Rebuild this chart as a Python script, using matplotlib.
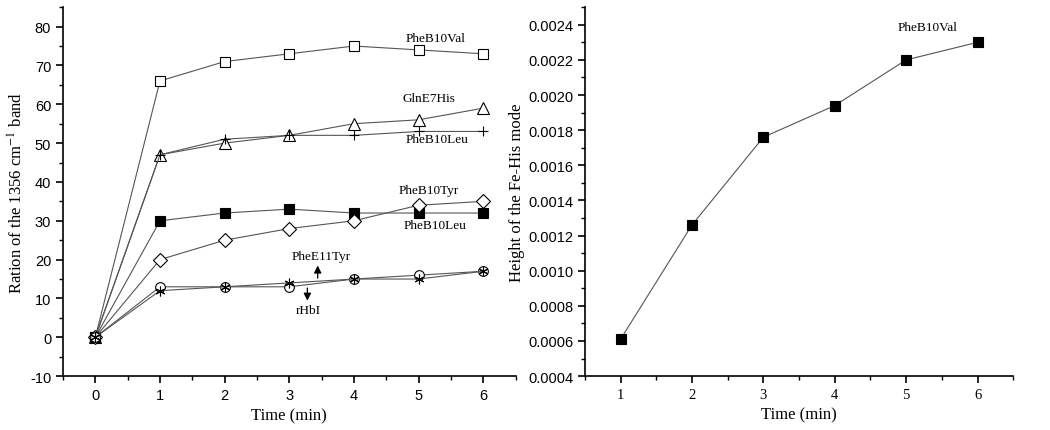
import matplotlib.pyplot as plt
from matplotlib.ticker import MultipleLocator

plt.rcParams['mathtext.fontset'] = 'stix'
plt.rcParams['axes.unicode_minus'] = False

# Left panel data
time = [0, 1, 2, 3, 4, 5, 6]
phe_b10_val = [0, 66, 71, 73, 75, 74, 73]
gln_e7_his = [0, 47, 50, 52, 55, 56, 59]
phe_b10_leu_plus = [0, 47, 51, 52, 52, 53, 53]
phe_b10_tyr = [0, 30, 32, 33, 32, 32, 32]
phe_b10_leu_diamond = [0, 20, 25, 28, 30, 34, 35]
rhbi = [0, 13, 13, 13, 15, 16, 17]
phe_e11_tyr = [0, 12, 13, 14, 15, 15, 17]

# Right panel data
time_r = [1, 2, 3, 4, 5, 6]
fe_his_height = [0.00061, 0.00126, 0.00176, 0.00194, 0.0022, 0.0023]

serif = 'Liberation Serif'
sans = 'Liberation Sans'
line_col = '#555555'

fig = plt.figure(figsize=(10.5, 4.31), dpi=100)
ax1 = fig.add_axes([0.06, 0.125, 0.431, 0.856])
ax2 = fig.add_axes([0.557, 0.125, 0.408, 0.856])

common = dict(color=line_col, lw=0.8, markersize=7, markeredgecolor='black',
              markeredgewidth=0.8)
ax1.plot(time, phe_b10_val, marker='s', markerfacecolor='white', **common)
ax1.plot(time, gln_e7_his, marker='^', markerfacecolor='white', markersize=9,
         **{k: v for k, v in common.items() if k != 'markersize'})
ax1.plot(time, phe_b10_leu_plus, marker='+', **common)
ax1.plot(time, phe_b10_tyr, marker='s', markerfacecolor='black', **common)
ax1.plot(time, phe_b10_leu_diamond, marker='D', markerfacecolor='white', **common)
ax1.plot(time, rhbi, marker='o', markerfacecolor='white', **common)
ax1.plot(time, phe_e11_tyr, marker=(6, 2, 0), **common)

tkw = dict(fontsize=9.5, family=serif, ha='center', va='center')
ax1.text(5.26, 77, 'PheB10Val', **tkw)
ax1.text(5.16, 61.5, 'GlnE7His', **tkw)
ax1.text(5.28, 51, 'PheB10Leu', **tkw)
ax1.text(5.16, 38, 'PheB10Tyr', **tkw)
ax1.text(5.26, 29, 'PheB10Leu', **tkw)
ax1.text(3.49, 21, 'PheE11Tyr', **tkw)
ax1.text(3.3, 7, 'rHbI', **tkw)
ax1.annotate('', xy=(3.44, 19.2), xytext=(3.44, 14.5),
             arrowprops=dict(arrowstyle='-|>', color='black', lw=0.9,
                             mutation_scale=11))
ax1.annotate('', xy=(3.28, 8.7), xytext=(3.28, 13.4),
             arrowprops=dict(arrowstyle='-|>', color='black', lw=0.9,
                             mutation_scale=11))

ax1.set_xlim(-0.5, 6.5)
ax1.set_ylim(-10, 85)
ax1.xaxis.set_major_locator(MultipleLocator(1))
ax1.xaxis.set_minor_locator(MultipleLocator(0.5))
ax1.yaxis.set_major_locator(MultipleLocator(10))
ax1.yaxis.set_minor_locator(MultipleLocator(5))
ax1.set_xlabel('Time (min)', family=serif, fontsize=12)
ax1.set_ylabel(r'Ration of the 1356 cm$^{-1}$ band', family=serif, fontsize=12,
               labelpad=2)
for lab in ax1.get_xticklabels() + ax1.get_yticklabels():
    lab.set_family(sans)
    lab.set_fontsize(10.5)

ax2.plot(time_r, fe_his_height, marker='s', markerfacecolor='black', **common)
ax2.text(5.3, 0.00239, 'PheB10Val', **tkw)
ax2.set_xlim(0.5, 6.5)
ax2.set_ylim(0.0004, 0.0025)
ax2.xaxis.set_major_locator(MultipleLocator(1))
ax2.xaxis.set_minor_locator(MultipleLocator(0.5))
ax2.yaxis.set_major_locator(MultipleLocator(0.0002))
ax2.yaxis.set_minor_locator(MultipleLocator(0.0001))
ax2.yaxis.set_major_formatter(plt.FormatStrFormatter('%.4f'))
ax2.set_xlabel('Time (min)', family=serif, fontsize=12)
ax2.set_ylabel('Height of the Fe-His mode', family=serif, fontsize=12,
               labelpad=2)
for lab in ax2.get_xticklabels():
    lab.set_family(serif)
    lab.set_fontsize(10.5)
for lab in ax2.get_yticklabels():
    lab.set_family(sans)
    lab.set_fontsize(10.5)

for ax in (ax1, ax2):
    ax.spines['top'].set_visible(False)
    ax.spines['right'].set_visible(False)
    ax.spines['left'].set_linewidth(1.2)
    ax.spines['bottom'].set_linewidth(1.2)
    ax.tick_params(which='major', direction='out', length=5, width=1.2)
    ax.tick_params(which='minor', direction='out', length=3, width=1)

fig.savefig('out.png', dpi=100)
